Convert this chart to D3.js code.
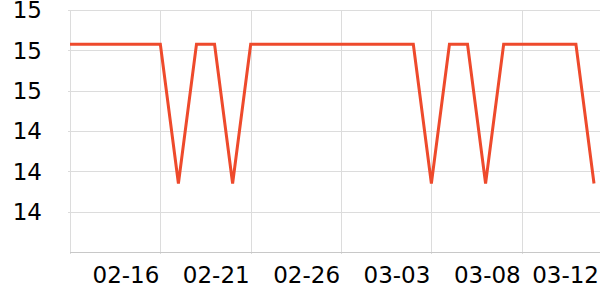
<!DOCTYPE html>
<html>
<head>
<meta charset="utf-8">
<script src="https://cdn.jsdelivr.net/npm/d3@7"></script>
<style>
  body { margin: 0; background: #fff; }
  svg { display: block; font-family: "DejaVu Sans", sans-serif; }
</style>
</head>
<body>
<div id="chart"></div>
<script>
// daily values, 02-11 .. 03-12
const dates = ["02-11","02-12","02-13","02-14","02-15","02-16","02-17","02-18","02-19","02-20",
               "02-21","02-22","02-23","02-24","02-25","02-26","02-27","02-28","03-01","03-02",
               "03-03","03-04","03-05","03-06","03-07","03-08","03-09","03-10","03-11","03-12"];
const values = [14.83,14.83,14.83,14.83,14.83,14.83,14.14,14.83,14.83,14.14,
                14.83,14.83,14.83,14.83,14.83,14.83,14.83,14.83,14.83,14.83,
                14.14,14.83,14.83,14.14,14.83,14.83,14.83,14.83,14.83,14.14];
const yTicks = [13.8, 14.0, 14.2, 14.4, 14.6, 14.8, 15.0];
const xTickLabels = ["02-16","02-21","02-26","03-03","03-08"];
const lastLabel = "03-12";

const width = 600, height = 300;
const margin = {top: 10, right: 6, bottom: 48, left: 70};

const parse = d3.timeParse("%Y-%m-%d");
const toDate = s => parse((s.startsWith("02") || s.startsWith("03") ? "2023-" : "2023-") + s);
const data = dates.map((d, i) => ({date: toDate(d), value: values[i]}));

const svg = d3.select('#chart').append('svg')
    .attr('width', width)
    .attr('height', height);

const x = d3.scaleTime()
    .domain(d3.extent(data, d => d.date))
    .range([margin.left, width - margin.right]);

const y = d3.scaleLinear()
    .domain([13.8, 15.0])
    .range([height - margin.bottom, margin.top]);

// horizontal gridlines
svg.append('g')
    .selectAll('line')
    .data(yTicks.slice(1))
    .join('line')
    .attr('x1', margin.left - 2)
    .attr('x2', width)
    .attr('y1', d => Math.round(y(d)) + 0.5)
    .attr('y2', d => Math.round(y(d)) + 0.5)
    .attr('stroke', '#dcdcdc')
    .attr('stroke-width', 1);

// vertical gridlines
const xGridDates = [dates[0]].concat(xTickLabels).map(toDate);
svg.append('g')
    .selectAll('line')
    .data(xGridDates)
    .join('line')
    .attr('x1', d => Math.round(x(d)) + 0.5)
    .attr('x2', d => Math.round(x(d)) + 0.5)
    .attr('y1', margin.top)
    .attr('y2', height - margin.bottom + 2)
    .attr('stroke', '#dcdcdc')
    .attr('stroke-width', 1);

// x axis line
const axisY = Math.round(y(13.8)) + 0.5;
svg.append('line')
    .attr('x1', margin.left)
    .attr('x2', width)
    .attr('y1', axisY)
    .attr('y2', axisY)
    .attr('stroke', '#c8c8c8');

// y labels
svg.append('g')
    .selectAll('text')
    .data(yTicks.slice(1))
    .join('text')
    .attr('x', 42)
    .attr('y', d => y(d))
    .attr('dy', '0.36em')
    .attr('text-anchor', 'end')
    .attr('font-size', 23)
    .attr('fill', '#000')
    .text(d => d3.format('.0f')(d));

// x labels (right-aligned to the tick)
svg.append('g')
    .selectAll('text')
    .data(xTickLabels)
    .join('text')
    .attr('x', d => x(toDate(d)) - 1)
    .attr('y', 283)
    .attr('text-anchor', 'end')
    .attr('font-size', 23)
    .attr('fill', '#000')
    .text(d => d);

svg.append('text')
    .attr('x', width - 1)
    .attr('y', 283)
    .attr('text-anchor', 'end')
    .attr('font-size', 23)
    .attr('fill', '#000')
    .text(lastLabel);

// the line
const line = d3.line()
    .x(d => x(d.date))
    .y(d => y(d.value));

svg.append('path')
    .datum(data)
    .attr('d', line)
    .attr('fill', 'none')
    .attr('stroke', '#ee4a2c')
    .attr('stroke-width', 3)
    .attr('stroke-linejoin', 'miter');
</script>
</body>
</html>
